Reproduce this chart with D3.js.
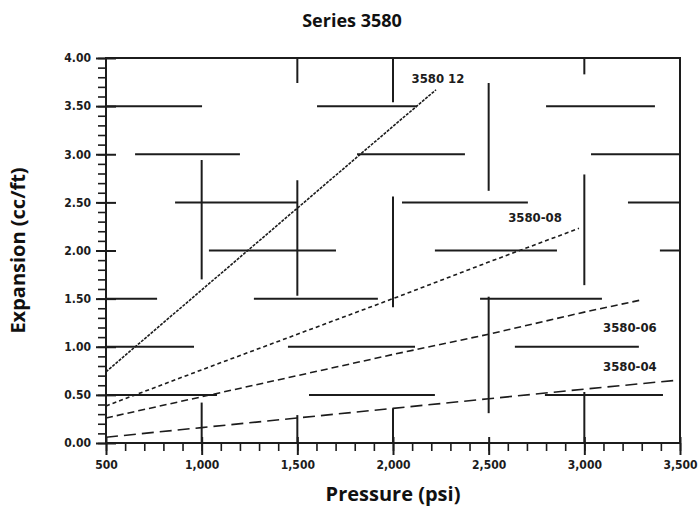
<!DOCTYPE html>
<html><head><meta charset="utf-8">
<script src="https://cdn.jsdelivr.net/npm/d3@7"></script>
<style>body{margin:0;background:#fff}svg{display:block}</style>
</head><body><svg id="c" width="699" height="513"></svg>
<script>
// ---- data ----
const categories = ["3580-12", "3580-08", "3580-06", "3580-04"];
const seriesLabels = ["3580 12", "3580-08", "3580-06", "3580-04"];
const series12 = [[500, 0.74], [1000, 1.59], [1500, 2.44], [2000, 3.29], [2225, 3.67]];
const series08 = [[500, 0.385], [1000, 0.76], [1500, 1.13], [2000, 1.50], [2500, 1.88], [2972, 2.23]];
const series06 = [[500, 0.26], [1000, 0.48], [1500, 0.70], [2000, 0.92], [2500, 1.13], [3000, 1.36], [3306, 1.49]];
const series04 = [[500, 0.06], [1000, 0.16], [1500, 0.26], [2000, 0.36], [2500, 0.46], [3000, 0.56], [3500, 0.655]];
const labelAnchors = [[2235, 3.79], [2742, 2.34], [3238, 1.205], [3238, 0.79]];
const xTicks = [500, 1000, 1500, 2000, 2500, 3000, 3500];
const xTickLabels = ["500", "1,000", "1,500", "2,000", "2,500", "3,000", "3,500"];
const yTicks = [0, 0.5, 1, 1.5, 2, 2.5, 3, 3.5, 4];
const yTickLabels = ["0.00", "0.50", "1.00", "1.50", "2.00", "2.50", "3.00", "3.50", "4.00"];
// broken grid fragments as printed (data units)
const hGridValues = [3.5, 3.0, 2.5, 2.0, 1.5, 1.0, 0.5];
const hGridSpans = [
  [[500, 1002], [1603, 2125], [2800, 3369]],
  [[652, 1200], [1812, 2376], [3035, 3500]],
  [[861, 1498], [2047, 2705], [3228, 3500]],
  [[1038, 1702], [2219, 2857], [3395, 3500]],
  [[500, 767], [1273, 1921], [2455, 3092]],
  [[500, 960], [1451, 2115], [2637, 3285]],
  [[500, 1080], [1561, 2219], [2794, 3411]]
];
const vGridValues = [1000, 1500, 2000, 2500, 3000];
const vGridSpans = [
  [[1.70, 2.94], [0, 0.42]],
  [[3.74, 4.0], [1.53, 2.73], [0, 0.29]],
  [[3.54, 4.0], [1.41, 2.56], [0, 0.36]],
  [[2.62, 3.74], [0.31, 1.52]],
  [[3.83, 4.0], [1.64, 2.79], [0, 0.53]]
];

// ---- chart ----
const W = 699, H = 513;
const m = {l: 106, r: 19, t: 58, b: 70};
const svg = d3.select("#c");
const ink = "#1c1c1c";
const x = d3.scaleLinear().domain([500, 3500]).range([m.l, W - m.r]);
const y = d3.scaleLinear().domain([0, 4]).range([H - m.b, m.t]);

// grid fragments
const g = svg.append("g").attr("stroke", ink).attr("stroke-width", 2);
hGridValues.forEach((v, i) => hGridSpans[i].forEach(s =>
  g.append("line").attr("x1", x(s[0])).attr("x2", x(s[1])).attr("y1", y(v)).attr("y2", y(v))));
vGridValues.forEach((v, i) => vGridSpans[i].forEach(s =>
  g.append("line").attr("x1", x(v)).attr("x2", x(v)).attr("y1", y(s[0])).attr("y2", y(s[1]))));

// frame
svg.append("rect").attr("x", x(500)).attr("y", y(4)).attr("width", x(3500) - x(500))
  .attr("height", y(0) - y(4)).attr("fill", "none").attr("stroke", ink).attr("stroke-width", 2);

// axes
const fontTick = "'DejaVu Sans Condensed', 'DejaVu Sans', sans-serif";
const yMinor = d3.range(0, 4.001, 0.1);
svg.append("g").attr("transform", `translate(${x(500)},0)`)
  .call(d3.axisLeft(y).tickValues(yMinor).tickFormat("").tickSizeOuter(0).tickSize(8))
  .call(a => a.select(".domain").remove())
  .call(a => a.selectAll("line").attr("stroke", ink).attr("stroke-width", 1.6));
svg.append("g").attr("transform", `translate(${x(500)},0)`)
  .call(d3.axisLeft(y).tickValues(yTicks).tickFormat((d, i) => yTickLabels[i]).tickSizeOuter(0).tickSize(10).tickPadding(5))
  .call(a => a.select(".domain").remove())
  .call(a => a.selectAll("line").attr("stroke", ink).attr("stroke-width", 2).attr("x2", -10).attr("x1", 10))
  .call(a => a.selectAll("text").attr("font-family", fontTick).attr("font-weight", "bold").attr("font-size", 12).attr("fill", ink));

const xMinor = d3.range(500, 3501, 100);
svg.append("g").attr("transform", `translate(0,${y(0)})`)
  .call(d3.axisBottom(x).tickValues(xMinor).tickFormat("").tickSizeOuter(0).tickSize(8))
  .call(a => a.select(".domain").remove())
  .call(a => a.selectAll("line").attr("stroke", ink).attr("stroke-width", 1.6));
svg.append("g").attr("transform", `translate(0,${y(0)})`)
  .call(d3.axisBottom(x).tickValues(xTicks).tickFormat((d, i) => xTickLabels[i]).tickSizeOuter(0).tickSize(12).tickPadding(5))
  .call(a => a.select(".domain").remove())
  .call(a => a.selectAll("line").attr("stroke", ink).attr("stroke-width", 2).attr("y1", -6))
  .call(a => a.selectAll("text").attr("font-family", fontTick).attr("font-weight", "bold").attr("font-size", 12).attr("fill", ink));

// series
const allSeries = [series12, series08, series06, series04];
const dashes = ["3,1.2", "4,3", "7,4", "12,6"];
const line = d3.line().x(d => x(d[0])).y(d => y(d[1]));
allSeries.forEach((s, i) => {
  svg.append("path").datum(s).attr("d", line).attr("fill", "none")
    .attr("stroke", ink).attr("stroke-width", 1.6).attr("stroke-dasharray", dashes[i]);
  svg.append("text").attr("x", x(labelAnchors[i][0])).attr("y", y(labelAnchors[i][1]))
    .attr("text-anchor", "middle").attr("dominant-baseline", "central")
    .attr("font-family", fontTick).attr("font-weight", "bold").attr("font-size", 13)
    .attr("fill", ink).text(seriesLabels[i]);
});

// titles
const fontTitle = "'Open Sans', sans-serif";
svg.append("text").attr("x", 352).attr("y", 27).attr("text-anchor", "middle")
  .attr("font-family", fontTitle).attr("font-weight", "bold").attr("font-size", 18).attr("fill", "#111")
  .text("Series 3580");
svg.append("text").attr("x", (x(500) + x(3500)) / 2).attr("y", 501).attr("text-anchor", "middle")
  .attr("font-family", fontTitle).attr("font-weight", "bold").attr("font-size", 20).attr("fill", "#111")
  .text("Pressure (psi)");
svg.append("text").attr("transform", `translate(25,${(y(0) + y(4)) / 2}) rotate(-90)`).attr("text-anchor", "middle")
  .attr("font-family", fontTitle).attr("font-weight", "bold").attr("font-size", 20).attr("fill", "#111")
  .text("Expansion (cc/ft)");
</script></body></html>
